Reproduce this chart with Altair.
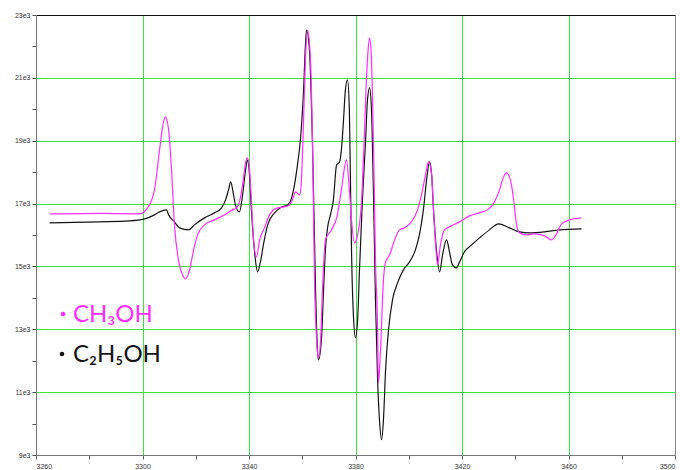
import altair as alt
import pandas as pd

# ---- data ----
field_ch3oh = [3265.1, 3285.0, 3298.9, 3301.9, 3304.5, 3306.4, 3307.9, 3308.6, 3309.8, 3310.9,
               3312.0, 3313.5, 3315.0, 3316.2, 3317.7, 3319.2, 3320.7, 3323.3, 3327.0, 3330.8,
               3333.8, 3335.3, 3336.4, 3337.6, 3338.7, 3339.4, 3340.2, 3340.9, 3341.7, 3342.8,
               3344.0, 3345.8, 3347.7, 3350.7, 3353.3, 3355.2, 3356.3, 3357.5, 3359.0, 3359.7,
               3360.5, 3361.2, 3362.0, 3363.1, 3363.9, 3364.6, 3365.4, 3366.1, 3366.9, 3367.6,
               3368.7, 3371.0, 3373.2, 3374.7, 3376.6, 3377.7, 3378.5, 3379.6, 3380.8, 3382.3,
               3383.4, 3384.1, 3384.9, 3385.3, 3386.0, 3386.8, 3387.5, 3388.3, 3388.6, 3389.4,
               3390.5, 3391.3, 3392.8, 3394.7, 3396.5, 3398.4, 3401.0, 3403.3, 3404.8, 3406.3,
               3407.4, 3408.6, 3409.3, 3410.1, 3410.8, 3411.9, 3413.4, 3416.1, 3419.1, 3422.8,
               3426.6, 3429.6, 3432.2, 3434.1, 3435.2, 3436.7, 3438.2, 3439.4, 3440.5, 3441.6,
               3444.2, 3447.2, 3451.0, 3453.6, 3455.5, 3457.4, 3460.4, 3464.9]
signal_ch3oh = [16672, 16690, 16672, 16863, 17435, 18707, 19597, 19756, 19343, 18071,
                16322, 15209, 14732, 14605, 14891, 15527, 16004, 16322, 16481, 16640,
                16799, 16863, 17053, 17594, 18294, 18453, 18071, 17117, 15845, 15304,
                15845, 16227, 16640, 16863, 16894, 16958, 17117, 17371, 17276, 17753,
                19661, 21569, 22523, 21569, 18707, 14573, 12665, 12093, 12665, 14255,
                15845, 16163, 16640, 17435, 18389, 17435, 16481, 15750, 16004, 17117,
                19343, 20933, 22046, 22269, 21569, 18707, 15209, 12983, 11298, 12347,
                14573, 15145, 15368, 15845, 16163, 16227, 16417, 16799, 17276, 17912,
                18325, 17912, 16799, 15686, 15050, 15686, 16163, 16290, 16417, 16608,
                16704, 16799, 17053, 17435, 17753, 17976, 17753, 17117, 16322, 16068,
                16004, 16036, 15972, 15845, 16036, 16354, 16481, 16545]

field_c2h5oh = [3265.1, 3283.9, 3295.1, 3300.8, 3304.5, 3306.4, 3309.0, 3309.8, 3312.0, 3313.9,
                3317.3, 3319.5, 3323.3, 3327.0, 3329.7, 3331.2, 3332.3, 3333.1, 3334.2, 3334.9,
                3336.4, 3337.6, 3338.7, 3339.4, 3340.2, 3340.9, 3341.7, 3342.4, 3343.2, 3344.3,
                3345.4, 3347.0, 3349.6, 3352.2, 3354.5, 3356.0, 3357.1, 3358.2, 3359.3, 3360.5,
                3361.2, 3361.6, 3362.7, 3363.9, 3365.0, 3365.7, 3366.1, 3367.2, 3368.0, 3368.7,
                3369.5, 3370.6, 3371.7, 3372.9, 3374.0, 3374.7, 3375.5, 3376.2, 3377.0, 3377.7,
                3378.1, 3378.5, 3379.3, 3380.0, 3380.8, 3381.5, 3382.6, 3383.8, 3384.5, 3385.3,
                3386.0, 3386.8, 3387.5, 3388.3, 3389.0, 3389.8, 3390.5, 3391.3, 3392.4, 3393.9,
                3395.8, 3398.0, 3400.3, 3402.5, 3404.0, 3405.5, 3406.7, 3407.8, 3408.6, 3409.3,
                3410.4, 3411.6, 3412.7, 3414.2, 3415.3, 3416.4, 3417.9, 3419.1, 3420.9, 3423.6,
                3426.6, 3430.3, 3433.7, 3437.8, 3441.6, 3445.4, 3451.0, 3456.6, 3464.9]
signal_c2h5oh = [16386, 16418, 16449, 16513, 16640, 16735, 16799, 16640, 16418, 16227,
                 16163, 16322, 16545, 16704, 16863, 17117, 17435, 17689, 17276, 16958,
                 16735, 17276, 18071, 18389, 17912, 16799, 15845, 15209, 14827, 15145,
                 15686, 16322, 16704, 16894, 16958, 17181, 17594, 18230, 19025, 20615,
                 22046, 22523, 21887, 18707, 14255, 12347, 12029, 12665, 14255, 15527,
                 16227, 16640, 17117, 18230, 18325, 18707, 19661, 20615, 20933, 19979,
                 17753, 15527, 13301, 12729, 13301, 14891, 17117, 19025, 20297, 20679,
                 19979, 17117, 13937, 11393, 10121, 9485, 10121, 11711, 12983, 13937,
                 14478, 14891, 15145, 15527, 16004, 16799, 17753, 18325, 17912, 16799,
                 15527, 14827, 15368, 15845, 15463, 15050, 14955, 15145, 15463, 15686,
                 15909, 16163, 16354, 16227, 16100, 16068, 16100, 16163, 16195]

legend_labels = ["CH\u2083OH", "C\u2082H\u2085OH"]
x_ticks = list(range(3260, 3501, 20))
y_ticks = list(range(9000, 23001, 1000))

GREEN = "#3fe33f"
MAGENTA = "#ff2eff"
BLACK = "#141414"

df_m = pd.DataFrame({"field": field_ch3oh, "signal": signal_ch3oh})
df_b = pd.DataFrame({"field": field_c2h5oh, "signal": signal_c2h5oh})

x_axis = alt.Axis(
    values=x_ticks, title=None, format="d",
    labelExpr="(datum.value - 3260) % 40 == 0 ? datum.label : ''",
    labelFont="Liberation Sans", labelFontSize=7, labelColor="#333333", labelPadding=3,
    tickSize=4, tickColor="#555555", domainColor="#777777",
    grid=True, gridWidth=1,
    gridColor={"condition": {"test": "datum.value == 3500", "value": "#888888"}, "value": GREEN},
    gridOpacity={"condition": {"test": "(datum.value - 3260) % 40 != 0 || datum.value == 3260", "value": 0}, "value": 1},
)
y_axis = alt.Axis(
    values=y_ticks, title=None,
    labelExpr="(datum.value / 1000) % 2 == 1 ? (datum.value / 1000) + 'e3' : ''",
    labelFont="Liberation Sans", labelFontSize=7, labelColor="#333333", labelPadding=2,
    tickSize=4, tickColor="#555555", domainColor="#777777",
    grid=True, gridWidth=1,
    gridColor={"condition": {"test": "datum.value == 23000", "value": "#111111"}, "value": GREEN},
    gridOpacity={"condition": {"test": "(datum.value / 1000) % 2 == 0 || datum.value == 9000", "value": 0}, "value": 1},
)

xs = alt.Scale(domain=[3260, 3500], nice=False, zero=False)
ys = alt.Scale(domain=[9000, 23000], nice=False, zero=False)

black_line = alt.Chart(df_b).mark_line(color=BLACK, strokeWidth=1.2, interpolate="monotone").encode(
    x=alt.X("field:Q", scale=xs, axis=x_axis),
    y=alt.Y("signal:Q", scale=ys, axis=y_axis),
)
mag_line = alt.Chart(df_m).mark_line(color=MAGENTA, strokeWidth=1.2, interpolate="monotone").encode(
    x=alt.X("field:Q", scale=xs, axis=x_axis),
    y=alt.Y("signal:Q", scale=ys, axis=y_axis),
)

lab_m = alt.Chart(pd.DataFrame({"label": [legend_labels[0]]})).mark_text(
    align="left", baseline="alphabetic", font="Lato", fontSize=24, color=MAGENTA
).encode(x=alt.value(37), y=alt.value(307), text="label:N")
lab_b = alt.Chart(pd.DataFrame({"label": [legend_labels[1]]})).mark_text(
    align="left", baseline="alphabetic", font="Lato", fontSize=24, color=BLACK
).encode(x=alt.value(37), y=alt.value(347), text="label:N")
dot_m = alt.Chart(pd.DataFrame({"label": [legend_labels[0]]})).mark_circle(
    color=MAGENTA, size=22, opacity=1
).encode(x=alt.value(27), y=alt.value(299))
dot_b = alt.Chart(pd.DataFrame({"label": [legend_labels[1]]})).mark_circle(
    color=BLACK, size=22, opacity=1
).encode(x=alt.value(26), y=alt.value(339))

chart = alt.layer(black_line, mag_line, lab_m, lab_b, dot_m, dot_b).properties(
    width=639, height=440,
    padding={"left": 36, "top": 15, "right": 5, "bottom": 15},
    autosize=alt.AutoSizeParams(type="none"),
    background="white",
).configure_view(stroke=None)

chart.save("out.html", embed_options={"renderer": "svg", "actions": False})
